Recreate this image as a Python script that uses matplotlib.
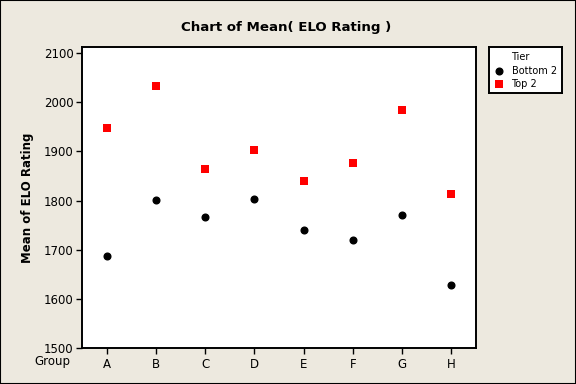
import matplotlib
matplotlib.use("Agg")
import matplotlib.pyplot as plt
from matplotlib.patches import Rectangle

groups = ["A", "B", "C", "D", "E", "F", "G", "H"]
bottom2 = [1687, 1801, 1766, 1803, 1741, 1720, 1771, 1629]
top2 = [1947, 2033, 1864, 1902, 1840, 1876, 1984, 1814]
yticks = [1500, 1600, 1700, 1800, 1900, 2000, 2100]

bg = "#EDE9DF"
plt.rcParams["font.family"] = ["DejaVu Sans"]

fig = plt.figure(figsize=(5.76, 3.84), dpi=100, facecolor=bg)
fig.patches.append(Rectangle((0, 0), 1, 1, transform=fig.transFigure,
                             fill=False, edgecolor="black", linewidth=1.5))

ax = fig.add_axes([82 / 576, 1 - 348.3 / 384, (476 - 82) / 576, (348.3 - 47.3) / 384])
ax.set_facecolor("white")
x = list(range(len(groups)))
ax.plot(x, bottom2, linestyle="none", marker="o", color="black", markersize=4.8)
ax.plot(x, top2, linestyle="none", marker="s", color="#FF0000", markersize=5.4,
        markeredgewidth=0)
ax.set_xlim(-0.5, 7.5)
ax.set_ylim(1500, 2111)
ax.set_yticks(yticks)
ax.set_xticks(x)
ax.set_xticklabels(groups)
for s in ["top", "right", "left", "bottom"]:
    ax.spines[s].set_linewidth(1.4)
    ax.spines[s].set_color("black")
ax.tick_params(axis="both", direction="out", length=4, width=1, labelsize=8.5,
               colors="black", pad=2)
ax.tick_params(axis="x", pad=3)
ax.set_ylabel("Mean of ELO Rating", fontsize=8.5, fontweight="bold", labelpad=7)

fig.text(70 / 576, 1 - 362 / 384, "Group", ha="right", va="center", fontsize=8.5)
fig.text(0.497, 1 - 27 / 384, "Chart of Mean( ELO Rating )", ha="center",
         va="center", fontsize=9.6, fontweight="bold")

# legend box
lax = fig.add_axes([489 / 576, 1 - 92.7 / 384, (562 - 489) / 576, (92.7 - 47.3) / 384])
lax.set_xlim(0, 73)
lax.set_ylim(45.4, 0)
lax.set_xticks([])
lax.set_yticks([])
lax.set_facecolor("white")
for s in lax.spines.values():
    s.set_linewidth(1.4)
lax.text(22.5, 9.5, "Tier", fontsize=7, va="center", ha="left")
lax.plot([10], [23.7], marker="o", color="black", markersize=4.8, linestyle="none")
lax.text(22.5, 23.7, "Bottom 2", fontsize=7, va="center", ha="left")
lax.plot([10], [37], marker="s", color="#FF0000", markersize=5.4, markeredgewidth=0,
         linestyle="none")
lax.text(22.5, 37, "Top 2", fontsize=7, va="center", ha="left")

fig.savefig("out.png", dpi=100, facecolor=bg)
